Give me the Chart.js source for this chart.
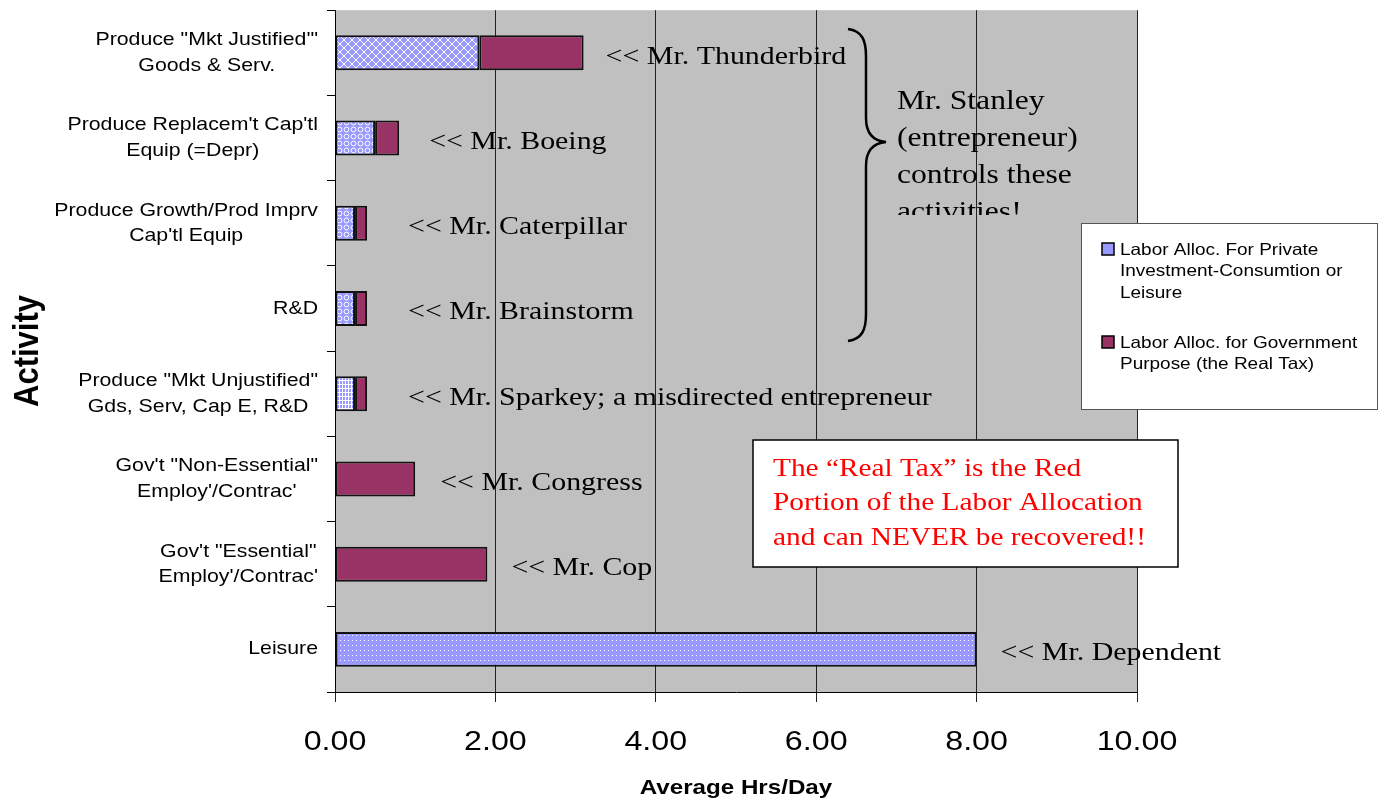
<!DOCTYPE html>
<html>
<head>
<meta charset="utf-8">
<script src="https://cdn.jsdelivr.net/npm/chart.js@4.4.1/dist/chart.umd.min.js"></script>
<style>
  body { margin: 0; background: #fff; }
  #wrap { width: 1387px; height: 802px; }
</style>
</head>
<body>
<div id="wrap"><canvas id="chart" width="1387" height="802"></canvas></div>
<script>
// DATA
const activities = [
  ['Produce "Mkt Justified\'"', 'Goods & Serv.'],
  ["Produce Replacem't Cap'tl", 'Equip (=Depr)'],
  ['Produce Growth/Prod Imprv', "Cap'tl Equip"],
  ['R&D'],
  ['Produce "Mkt Unjustified"', 'Gds, Serv, Cap E, R&D'],
  ['Gov\'t "Non-Essential"', "Employ'/Contrac'"],
  ['Gov\'t "Essential"', "Employ'/Contrac'"],
  ['Leisure']
];
const privateHrs = [1.8, 0.5, 0.25, 0.25, 0.25, null, null, 8.0];
const govHrs = [1.3, 0.3, 0.15, 0.15, 0.15, 1.0, 1.9, null];
const notes = [
  '<< Mr. Thunderbird',
  '<< Mr. Boeing',
  '<< Mr. Caterpillar',
  '<< Mr. Brainstorm',
  '<< Mr. Sparkey; a misdirected entrepreneur',
  '<< Mr. Congress',
  '<< Mr. Cop',
  '<< Mr. Dependent'
];
const xTicks = [0, 2, 4, 6, 8, 10];
const legendLabels = [
  ['Labor Alloc. For Private', 'Investment-Consumtion or', 'Leisure'],
  ['Labor Alloc. for Government', 'Purpose (the Real Tax)']
];
const stanleyText = ['Mr. Stanley', '(entrepreneur)', 'controls these', 'activities!'];
const taxText = ['The \u201cReal Tax\u201d is the Red', 'Portion of the Labor Allocation', 'and can NEVER be recovered!!'];

// STYLE
const SX = 1.15; // the picture is a bit wider than tall
const SANS = '"Liberation Sans", Arial, sans-serif';
const SERIF = '"Liberation Serif", "Times New Roman", serif';
const BLUE = '#9999ff';
const PLUM = '#993366';
const noteGaps = [22, 30, 41, 41, 41, 25, 24, 24];

function makePattern(kind) {
  const tiles = { lattice: [8, 8], rings: [7, 7], grid: [3, 4], dots: [4, 5] };
  const [w, h] = tiles[kind];
  const c = document.createElement('canvas');
  c.width = w; c.height = h;
  const g = c.getContext('2d');
  g.fillStyle = BLUE;
  g.fillRect(0, 0, w, h);
  g.fillStyle = '#fff';
  g.strokeStyle = '#fff';
  if (kind === 'lattice') {
    for (let i = 0; i < 8; i += 1) {
      g.fillRect(i, i, 1, 1);
      g.fillRect(i, 7 - i, 1, 1);
    }
  } else if (kind === 'rings') {
    g.lineWidth = 1;
    g.beginPath();
    g.arc(3.5, 3.5, 2.4, 0, Math.PI * 2);
    g.stroke();
  } else if (kind === 'grid') {
    g.fillRect(0, 0, 1, h);
    g.fillRect(0, 0, w, 1);
  } else {
    g.fillRect(0, 0, 1, 1);
  }
  return g.createPattern(c, 'repeat');
}

const patternKinds = ['lattice', 'rings', 'rings', 'rings', 'grid', 'dots', 'dots', 'dots'];
const privateFills = patternKinds.map(makePattern);

function stretchText(ctx, s, x, y, align) {
  ctx.save();
  ctx.translate(x, y);
  ctx.scale(SX, 1);
  ctx.textAlign = align;
  ctx.fillText(s, 0, 0);
  ctx.restore();
}

function textWidth(ctx, s) {
  return ctx.measureText(s).width * SX;
}

// PLUGIN: background, labels, notes, brace, boxes
const decor = {
  id: 'decor',
  beforeDraw(chart) {
    const { ctx, chartArea: a } = chart;
    ctx.save();
    ctx.fillStyle = '#c0c0c0';
    ctx.fillRect(a.left, a.top, a.right - a.left, a.bottom - a.top);
    ctx.restore();
  },
  afterDatasetsDraw(chart) {
    const { ctx, scales } = chart;
    const x = scales.x, y = scales.y;
    ctx.save();
    ctx.fillStyle = '#000';
    ctx.textBaseline = 'middle';

    // notes next to the bars
    ctx.font = '26px ' + SERIF;
    notes.forEach((n, i) => {
      const total = (privateHrs[i] || 0) + (govHrs[i] || 0);
      stretchText(ctx, n, x.getPixelForValue(total) + noteGaps[i], y.getPixelForValue(i) + 4, 'left');
    });

    // brace
    ctx.lineWidth = 2.5;
    ctx.strokeStyle = '#000';
    ctx.beginPath();
    ctx.moveTo(848, 29);
    ctx.bezierCurveTo(862, 31, 866, 40, 866, 56);
    ctx.lineTo(866, 118);
    ctx.bezierCurveTo(866, 134, 874, 141, 886, 142);
    ctx.bezierCurveTo(874, 143, 866, 150, 866, 166);
    ctx.lineTo(866, 314);
    ctx.bezierCurveTo(866, 330, 862, 339, 848, 341);
    ctx.stroke();

    // stanley text (cut off at the bottom like the source)
    ctx.save();
    ctx.beginPath();
    ctx.rect(880, 60, 260, 155);
    ctx.clip();
    ctx.font = '27.5px ' + SERIF;
    stanleyText.forEach((s, i) => stretchText(ctx, s, 897, 102 + i * 37, 'left'));
    ctx.restore();

    // legend box
    ctx.fillStyle = '#fff';
    ctx.fillRect(1081, 223, 296, 186);
    ctx.strokeStyle = '#555';
    ctx.lineWidth = 1;
    ctx.strokeRect(1081.5, 223.5, 296, 186);
    const legendFills = [BLUE, PLUM];
    const legendTops = [250, 343];
    ctx.font = '16.5px ' + SANS;
    legendLabels.forEach((lines, k) => {
      ctx.fillStyle = legendFills[k];
      ctx.fillRect(1102, legendTops[k] - 7, 12, 12);
      ctx.strokeStyle = '#000';
      ctx.lineWidth = 1.5;
      ctx.strokeRect(1102, legendTops[k] - 7, 12, 12);
      ctx.fillStyle = '#000';
      lines.forEach((s, j) => stretchText(ctx, s, 1120, legendTops[k] + j * 21.5, 'left'));
    });

    // red tax box
    ctx.fillStyle = '#fff';
    ctx.fillRect(753, 440, 425, 127);
    ctx.strokeStyle = '#000';
    ctx.lineWidth = 1.5;
    ctx.strokeRect(753, 440, 425, 127);
    ctx.fillStyle = '#ff0000';
    ctx.font = '25.5px ' + SERIF;
    taxText.forEach((s, i) => stretchText(ctx, s, 773, 469 + i * 34.5, 'left'));

    ctx.restore();
  },
  afterDraw(chart) {
    const { ctx, scales, chartArea: a } = chart;
    const x = scales.x, y = scales.y;
    ctx.save();
    ctx.fillStyle = '#000';
    ctx.textBaseline = 'middle';

    // category labels
    ctx.font = '18.5px ' + SANS;
    activities.forEach((lines, i) => {
      const maxW = Math.max(...lines.map(s => textWidth(ctx, s)));
      const cx = 318 - maxW / 2;
      const cy = y.getPixelForValue(i);
      lines.forEach((s, j) => {
        stretchText(ctx, s, cx, cy + (j - (lines.length - 1) / 2) * 25.5, 'center');
      });
    });

    // x tick labels
    ctx.font = '28px ' + SANS;
    xTicks.forEach(v => stretchText(ctx, v.toFixed(2), x.getPixelForValue(v), 742, 'center'));

    // axis titles
    ctx.font = 'bold 21px ' + SANS;
    stretchText(ctx, 'Average Hrs/Day', (a.left + a.right) / 2, 788, 'center');

    ctx.save();
    ctx.translate(28, 351);
    ctx.scale(SX, 1);
    ctx.rotate(-Math.PI / 2);
    ctx.font = 'bold 31px ' + SANS;
    ctx.textAlign = 'center';
    ctx.fillText('Activity', 0, 0);
    ctx.restore();

    ctx.restore();
  }
};

// CHART
const ctx = document.getElementById('chart').getContext('2d');
new Chart(ctx, {
  type: 'bar',
  data: {
    labels: activities,
    datasets: [
      {
        label: legendLabels[0].join(' '),
        data: privateHrs,
        backgroundColor: privateFills,
        borderColor: '#111',
        borderWidth: 2,
        borderSkipped: false
      },
      {
        label: legendLabels[1].join(' '),
        data: govHrs,
        backgroundColor: PLUM,
        borderColor: '#111',
        borderWidth: 2,
        borderSkipped: false
      }
    ]
  },
  options: {
    indexAxis: 'y',
    responsive: false,
    animation: false,
    layout: { padding: { top: 9, right: 250, left: 0, bottom: 0 } },
    datasets: { bar: { categoryPercentage: 1, barPercentage: 0.41 } },
    plugins: {
      legend: { display: false },
      tooltip: { enabled: false }
    },
    scales: {
      x: {
        stacked: true,
        min: 0,
        max: 10,
        ticks: { stepSize: 2, color: 'transparent', font: { size: 28 } },
        grid: { color: '#222', lineWidth: 1, tickLength: 10, drawOnChartArea: true },
        border: { color: '#000', width: 1 },
        afterFit(s) { s.height = 110; }
      },
      y: {
        stacked: true,
        ticks: { color: 'transparent' },
        grid: { drawOnChartArea: false, color: '#000', tickLength: 8, offset: true },
        border: { color: '#000', width: 1 },
        afterFit(s) { s.width = 335; }
      }
    }
  },
  plugins: [decor]
});
</script>
</body>
</html>
